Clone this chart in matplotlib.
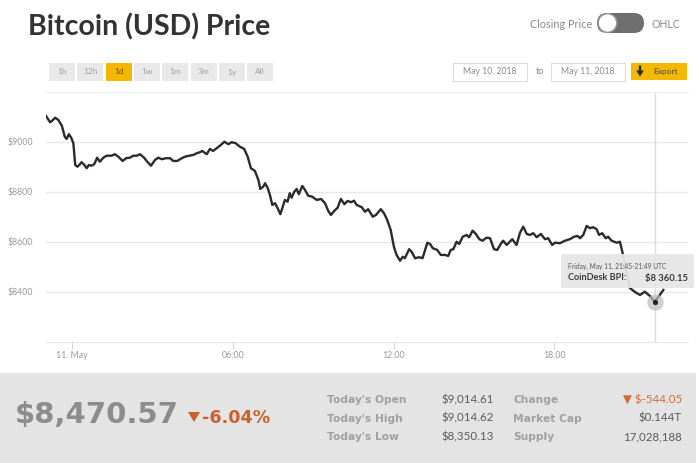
import matplotlib.pyplot as plt
from matplotlib.patches import FancyBboxPatch, Rectangle, Circle, Polygon

plt.rcParams['font.family'] = ['Lato', 'DejaVu Sans']

# hours since 11 May 2018 00:00 UTC, CoinDesk BPI in USD
hours = [-0.98, -0.83, -0.76, -0.64, -0.52, -0.39, -0.28, -0.21, -0.13, -0.04,
         0.04, 0.11, 0.19, 0.26, 0.35, 0.45, 0.54, 0.62, 0.72, 0.82,
         0.93, 1.03, 1.16, 1.28, 1.47, 1.59, 1.72, 1.88, 2.01, 2.15,
         2.28, 2.41, 2.53, 2.68, 2.80, 2.94, 3.09, 3.21, 3.34, 3.50,
         3.65, 3.77, 3.92, 4.09, 4.21, 4.37, 4.52, 4.65, 4.77, 4.85,
         5.02, 5.14, 5.26, 5.39, 5.55, 5.68, 5.83, 5.95, 6.10, 6.26,
         6.42, 6.55, 6.67, 6.82, 6.95, 7.02, 7.13, 7.20, 7.30, 7.38,
         7.47, 7.57, 7.67, 7.77, 7.84, 7.94, 8.04, 8.12, 8.19, 8.29,
         8.38, 8.46, 8.59, 8.69, 8.81, 8.96, 9.13, 9.29, 9.44, 9.56,
         9.66, 9.78, 9.91, 10.03, 10.16, 10.28, 10.41, 10.52, 10.62, 10.81,
         10.93, 11.05, 11.22, 11.34, 11.52, 11.64, 11.76, 11.89, 12.01, 12.11,
         12.24, 12.34, 12.42, 12.58, 12.67, 12.80, 12.96, 13.08, 13.26, 13.36,
         13.46, 13.63, 13.76, 13.92, 14.04, 14.13, 14.23, 14.35, 14.45, 14.58,
         14.73, 14.82, 14.95, 15.07, 15.20, 15.32, 15.47, 15.60, 15.75, 15.87,
         16.00, 16.09, 16.22, 16.34, 16.43, 16.59, 16.72, 16.84, 16.97, 17.09,
         17.21, 17.34, 17.50, 17.65, 17.77, 17.92, 18.02, 18.21, 18.40, 18.58,
         18.74, 18.87, 18.96, 19.08, 19.21, 19.33, 19.45, 19.58, 19.67, 19.79,
         19.92, 20.01, 20.14, 20.33, 20.45, 20.54, 20.67, 20.82, 21.01, 21.20,
         21.38, 21.57, 21.75, 21.88, 22.07]
prices = [9103, 9078, 9083, 9096, 9087, 9064, 9020, 9011, 9030, 9016,
          8994, 8907, 8900, 8907, 8918, 8907, 8894, 8907, 8904, 8910,
          8936, 8920, 8936, 8944, 8944, 8950, 8940, 8923, 8934, 8936,
          8944, 8944, 8950, 8936, 8920, 8904, 8927, 8936, 8930, 8934,
          8934, 8923, 8923, 8934, 8940, 8944, 8947, 8954, 8958, 8963,
          8950, 8971, 8963, 8974, 8987, 9000, 8990, 8998, 8994, 8980,
          8971, 8940, 8894, 8883, 8847, 8811, 8820, 8834, 8814, 8787,
          8747, 8754, 8734, 8710, 8734, 8767, 8760, 8794, 8776, 8800,
          8811, 8790, 8823, 8807, 8784, 8780, 8767, 8771, 8754, 8723,
          8707, 8723, 8736, 8771, 8750, 8763, 8758, 8764, 8747, 8738,
          8720, 8730, 8700, 8707, 8730, 8714, 8687, 8647, 8580, 8547,
          8524, 8540, 8534, 8570, 8560, 8534, 8538, 8534, 8596, 8591,
          8574, 8567, 8547, 8547, 8543, 8567, 8570, 8600, 8591, 8620,
          8627, 8618, 8644, 8631, 8610, 8604, 8616, 8614, 8570, 8567,
          8591, 8604, 8587, 8600, 8610, 8587, 8636, 8660, 8631, 8627,
          8634, 8618, 8631, 8610, 8614, 8587, 8596, 8594, 8604, 8610,
          8620, 8623, 8614, 8627, 8663, 8654, 8658, 8650, 8627, 8634,
          8614, 8620, 8604, 8596, 8600, 8560, 8487, 8415, 8399, 8387,
          8400, 8383, 8360, 8378, 8407]

hover_hour = 21.75
hover_price = 8360.15
hover_title = 'Friday, May 11, 21:45-21:49 UTC'
hover_label = 'CoinDesk BPI:'
hover_value = '$8 360.15'

x_ticks = [0, 6, 12, 18]
x_labels = ['11. May', '06:00', '12:00', '18:00']
y_ticks = [8400, 8600, 8800, 9000]
y_labels = ['$8400', '$8600', '$8800', '$9000']

ranges = ['1h', '12h', '1d', '1w', '1m', '3m', '1y', 'All']
active_range = '1d'
date_from = 'May 10, 2018'
date_to = 'May 11, 2018'

last_price = '$8,470.57'
pct_change = '-6.04%'
left_labels = ["Today's Open", "Today's High", "Today's Low"]
left_values = ['$9,014.61', '$9,014.62', '$8,350.13']
right_labels = ['Change', 'Market Cap', 'Supply']
right_values = ['▼ $-544.05', '$0.144T', '17,028,188']

W, H = 696, 463
fig = plt.figure(figsize=(W / 100, H / 100), dpi=100)
fig.patch.set_facecolor('white')

# price chart
ax = fig.add_axes([45.5 / W, 1 - 341.7 / H, 642.7 / W, 250 / H])
ax.plot(hours, prices, color='#2b2b2b', lw=1.7, solid_joinstyle='round', zorder=3)
ax.set_xlim(-1, 23)
ax.set_ylim(8200, 9200)
ax.set_xticks(x_ticks, x_labels)
ax.set_yticks(y_ticks, y_labels)
ax.yaxis.grid(True, color='#e9e9e9', lw=1)
for side in ['left', 'right']:
    ax.spines[side].set_visible(False)
ax.spines['bottom'].set_color('#e6e6e6')
ax.spines['top'].set_color('#efefef')
ax.tick_params(axis='y', length=0, pad=9, labelsize=6.3, labelcolor='#9a9a9a')
ax.tick_params(axis='x', length=5, width=0.8, color='#d8d8d8', pad=2,
               labelsize=6.3, labelcolor='#9a9a9a')
ax.axvline(hover_hour, color='#dcdcdc', lw=1, zorder=2)
ax.scatter([hover_hour], [hover_price], s=140, color='#bdbdbd', alpha=0.7,
           lw=0, zorder=4)
ax.scatter([hover_hour], [hover_price], s=14, color='#222222', lw=0, zorder=5)

# page decorations in pixel coordinates
ov = fig.add_axes([0, 0, 1, 1], zorder=5)
ov.set_xlim(0, W)
ov.set_ylim(H, 0)
ov.axis('off')
ov.patch.set_alpha(0)

ov.text(28, 35, 'Bitcoin (USD) Price', fontsize=20.5, fontweight='bold',
        color='#333333', va='baseline')

for i, r in enumerate(ranges):
    x0 = 49 + i * 28.3
    on = r == active_range
    ov.add_patch(Rectangle((x0, 63), 26, 17.5, fc='#f5b800' if on else '#e9e9e9', ec='none'))
    ov.text(x0 + 13, 72, r, fontsize=6, color='#6b5200' if on else '#a0a0a0',
            ha='center', va='center')

ov.text(592, 24.5, 'Closing Price', fontsize=7.8, color='#8a8a8a', ha='right', va='center')
ov.add_patch(FancyBboxPatch((597, 13), 47, 20, boxstyle='round,pad=0,rounding_size=10',
                            fc='#6e6e6e', ec='none'))
ov.add_patch(Circle((607.5, 23), 9.3, fc='white', ec='#9a9a9a', lw=1))
ov.text(652, 24.5, 'OHLC', fontsize=7.6, color='#8a8a8a', va='center')

ov.add_patch(Rectangle((453, 63), 74, 18, fc='white', ec='#dcdcdc', lw=0.8))
ov.text(490, 72, date_from, fontsize=6.2, color='#8a8a8a', ha='center', va='center')
ov.text(540, 72, 'to', fontsize=6.5, color='#8a8a8a', ha='center', va='center')
ov.add_patch(Rectangle((551, 63), 74, 18, fc='white', ec='#dcdcdc', lw=0.8))
ov.text(588, 72, date_to, fontsize=6.2, color='#8a8a8a', ha='center', va='center')
ov.add_patch(Rectangle((631, 63), 56, 17, fc='#f5b800', ec='none'))
ov.add_patch(Polygon([(638.8, 65.5), (641.2, 65.5), (641.2, 70.5), (643.8, 70.5),
                      (640, 76.5), (636.2, 70.5), (638.8, 70.5)], fc='#2a2a2a', ec='none'))
ov.text(665, 71.5, 'Export', fontsize=6, color='#4a4a4a', ha='center', va='center')

# hover tooltip
ov.add_patch(FancyBboxPatch((561, 254), 133, 34, boxstyle='round,pad=0,rounding_size=2',
                            fc='#e6e6e6', ec='none', alpha=0.95))
ov.text(568, 268.5, hover_title, fontsize=4.8, color='#555555', va='baseline')
ov.text(568, 280.5, hover_label, fontsize=6.6, fontweight='bold', color='#3a3a3a',
        va='baseline')
ov.text(688, 280.5, hover_value, fontsize=6.8, fontweight='bold', color='#3a3a3a',
        ha='right', va='baseline')

# summary strip
ov.add_patch(Rectangle((0, 373), W, H - 373, fc='#e4e4e4', ec='none'))
ov.text(15, 423.3, last_price, fontsize=21, fontweight='bold', color='#8c8c8c',
        va='baseline', family='DejaVu Sans')
ov.add_patch(Polygon([(188, 412), (200, 412), (194, 422)], fc='#cf5f2a', ec='none'))
ov.text(202, 423.3, pct_change, fontsize=12.6, fontweight='bold', color='#cf5f2a',
        va='baseline', family='DejaVu Sans')
for i in range(3):
    y = 403.3 + i * 18.5
    ov.text(327, y, left_labels[i], fontsize=7.7, fontweight='bold', color='#a0a0a0',
            va='baseline', family='DejaVu Sans')
    ov.text(494, y, left_values[i], fontsize=8.3, color='#5a5a5a', ha='right',
            va='baseline')
    ov.text(513, y, right_labels[i], fontsize=7.7, fontweight='bold', color='#a0a0a0',
            va='baseline', family='DejaVu Sans')
    ov.text(682, y, right_values[i], fontsize=8.3,
            color='#d36b35' if i == 0 else '#5a5a5a', ha='right', va='baseline')

fig.savefig('out.png', dpi=100)
